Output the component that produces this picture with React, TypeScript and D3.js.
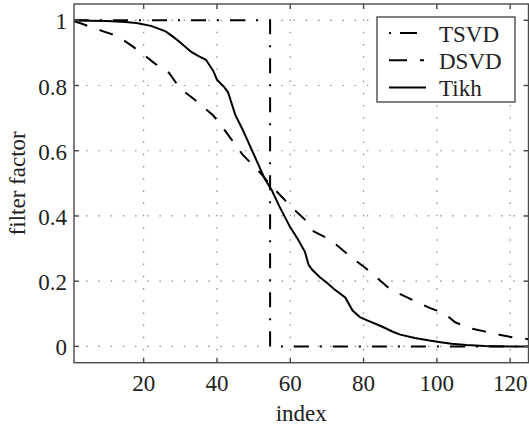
import * as d3 from "d3";
import { useEffect, useRef } from "react";

// index / filter factor pairs
const tsvdIndex = [1, 54.5, 54.5, 128];
const tsvdValue = [1, 1, 0, 0];

const dsvdIndex = [1, 3, 5, 9, 13, 17, 20, 23, 27, 30, 33, 36, 39, 42, 44, 47, 49, 52, 55, 58, 61, 64, 66, 70, 73, 77, 80, 83, 87, 90, 94, 98, 102, 105, 109, 113, 117, 121, 125, 128];
const dsvdValue = [0.997, 0.99, 0.982, 0.966, 0.951, 0.92, 0.895, 0.868, 0.838, 0.79, 0.765, 0.737, 0.708, 0.665, 0.634, 0.588, 0.565, 0.53, 0.49, 0.455, 0.42, 0.389, 0.355, 0.332, 0.308, 0.27, 0.245, 0.217, 0.178, 0.16, 0.139, 0.118, 0.102, 0.074, 0.056, 0.046, 0.036, 0.027, 0.022, 0.02];

const tikhIndex = [1, 5, 10, 15, 18, 22, 26, 28, 30, 33, 35, 37, 39, 40, 42, 43, 45, 47, 48, 50, 52, 53, 55, 57, 60, 62, 64, 65, 66, 68, 70, 72, 75, 77, 79, 81, 85, 88, 90, 94, 98, 101, 104, 108, 113, 120, 128];
const tikhValue = [1, 0.999, 0.998, 0.995, 0.992, 0.983, 0.966, 0.95, 0.932, 0.903, 0.89, 0.879, 0.845, 0.818, 0.795, 0.78, 0.71, 0.665, 0.64, 0.59, 0.54, 0.515, 0.478, 0.43, 0.365, 0.33, 0.29, 0.25, 0.235, 0.213, 0.195, 0.175, 0.15, 0.11, 0.09, 0.08, 0.061, 0.045, 0.036, 0.026, 0.018, 0.013, 0.008, 0.004, 0.001, 0, 0];

const xTicks = [20, 40, 60, 80, 100, 120];
const yTicks = [0, 0.2, 0.4, 0.6, 0.8, 1];
const legendNames = ["TSVD", "DSVD", "Tikh"];

const FONT = "'Liberation Serif', 'DejaVu Serif', serif";

export default function App() {
  const ref = useRef<SVGSVGElement>(null);

  useEffect(() => {
    if (!ref.current) return;
    const svg = d3.select(ref.current);
    svg.selectAll("*").remove();

    const width = 529;
    const height = 427;
    const left = 74, right = 528.5, top = 4, bottom = 362.7;

    const x = d3.scaleLinear().domain([1, 125]).range([left, right]);
    const y = d3.scaleLinear().domain([-0.05, 1.05]).range([bottom, top]);

    svg.attr("width", width).attr("height", height);

    svg.append("rect").attr("width", width).attr("height", height).attr("fill", "#fff");

    svg.append("defs").append("clipPath").attr("id", "plot-clip")
      .append("rect")
      .attr("x", left).attr("y", top)
      .attr("width", right - left).attr("height", bottom - top);

    // dotted grid
    const grid = svg.append("g")
      .attr("stroke", "#8a8a8a")
      .attr("stroke-width", 1.2)
      .attr("stroke-dasharray", "1.5,10.7");
    grid.selectAll("line.gx").data(xTicks).enter().append("line")
      .attr("x1", d => x(d)).attr("x2", d => x(d))
      .attr("y1", bottom).attr("y2", top);
    grid.selectAll("line.gy").data(yTicks).enter().append("line")
      .attr("x1", left).attr("x2", right)
      .attr("y1", d => y(d)).attr("y2", d => y(d));

    // curves
    const line = d3.line<[number, number]>().x(d => x(d[0])).y(d => y(d[1]));
    const curves = svg.append("g").attr("clip-path", "url(#plot-clip)")
      .attr("fill", "none").attr("stroke", "#000").attr("stroke-width", 2);

    curves.append("path")
      .attr("d", line(tsvdIndex.map((d, i) => [d, tsvdValue[i]] as [number, number])))
      .attr("stroke-dasharray", "15,11,2,11");
    curves.append("path")
      .attr("d", line(dsvdIndex.map((d, i) => [d, dsvdValue[i]] as [number, number])))
      .attr("stroke-dasharray", "14,13");
    curves.append("path")
      .attr("d", line(tikhIndex.map((d, i) => [d, tikhValue[i]] as [number, number])));

    // axes box and inward ticks
    const axes = svg.append("g").attr("stroke", "#4a4a4a").attr("stroke-width", 1.4).attr("fill", "none");
    axes.append("rect")
      .attr("x", left).attr("y", top)
      .attr("width", right - left).attr("height", bottom - top);
    const tl = 5;
    xTicks.forEach(t => {
      axes.append("line").attr("x1", x(t)).attr("x2", x(t)).attr("y1", bottom).attr("y2", bottom - tl);
      axes.append("line").attr("x1", x(t)).attr("x2", x(t)).attr("y1", top).attr("y2", top + tl);
    });
    yTicks.forEach(t => {
      axes.append("line").attr("x1", left).attr("x2", left + tl).attr("y1", y(t)).attr("y2", y(t));
      axes.append("line").attr("x1", right).attr("x2", right - tl).attr("y1", y(t)).attr("y2", y(t));
    });

    // tick labels
    const labels = svg.append("g").attr("font-family", FONT).attr("font-size", 23).attr("fill", "#222");
    labels.selectAll("text.xt").data(xTicks).enter().append("text")
      .attr("x", d => x(d)).attr("y", 391)
      .attr("text-anchor", "middle")
      .text(d => d3.format("d")(d));
    labels.selectAll("text.yt").data(yTicks).enter().append("text")
      .attr("x", 67).attr("y", d => y(d) + 9)
      .attr("text-anchor", "end")
      .text(d => d === 0 || d === 1 ? String(d) : d3.format(".1f")(d));

    labels.append("text")
      .attr("x", (left + right) / 2).attr("y", 421)
      .attr("text-anchor", "middle")
      .text("index");
    labels.append("text")
      .attr("transform", `translate(25,${(top + bottom) / 2}) rotate(-90)`)
      .attr("text-anchor", "middle")
      .text("filter factor");

    // legend
    const legend = svg.append("g");
    legend.append("rect")
      .attr("x", 377).attr("y", 17).attr("width", 138).attr("height", 85)
      .attr("fill", "#fff").attr("stroke", "#4a4a4a").attr("stroke-width", 1.4);
    const dashes = ["2,9,17,40", "18,13,4,40", null];
    legendNames.forEach((name, i) => {
      const cy = 33 + i * 27.2;
      const l = legend.append("line")
        .attr("x1", 389).attr("x2", 426).attr("y1", cy).attr("y2", cy)
        .attr("stroke", "#000").attr("stroke-width", 2);
      if (dashes[i]) l.attr("stroke-dasharray", dashes[i]);
      legend.append("text")
        .attr("x", 439).attr("y", cy + 8.5)
        .attr("font-family", FONT).attr("font-size", 23).attr("fill", "#222")
        .text(name);
    });
  }, []);

  return <svg ref={ref} style={{ position: "absolute", left: 0, top: 0 }} />;
}
